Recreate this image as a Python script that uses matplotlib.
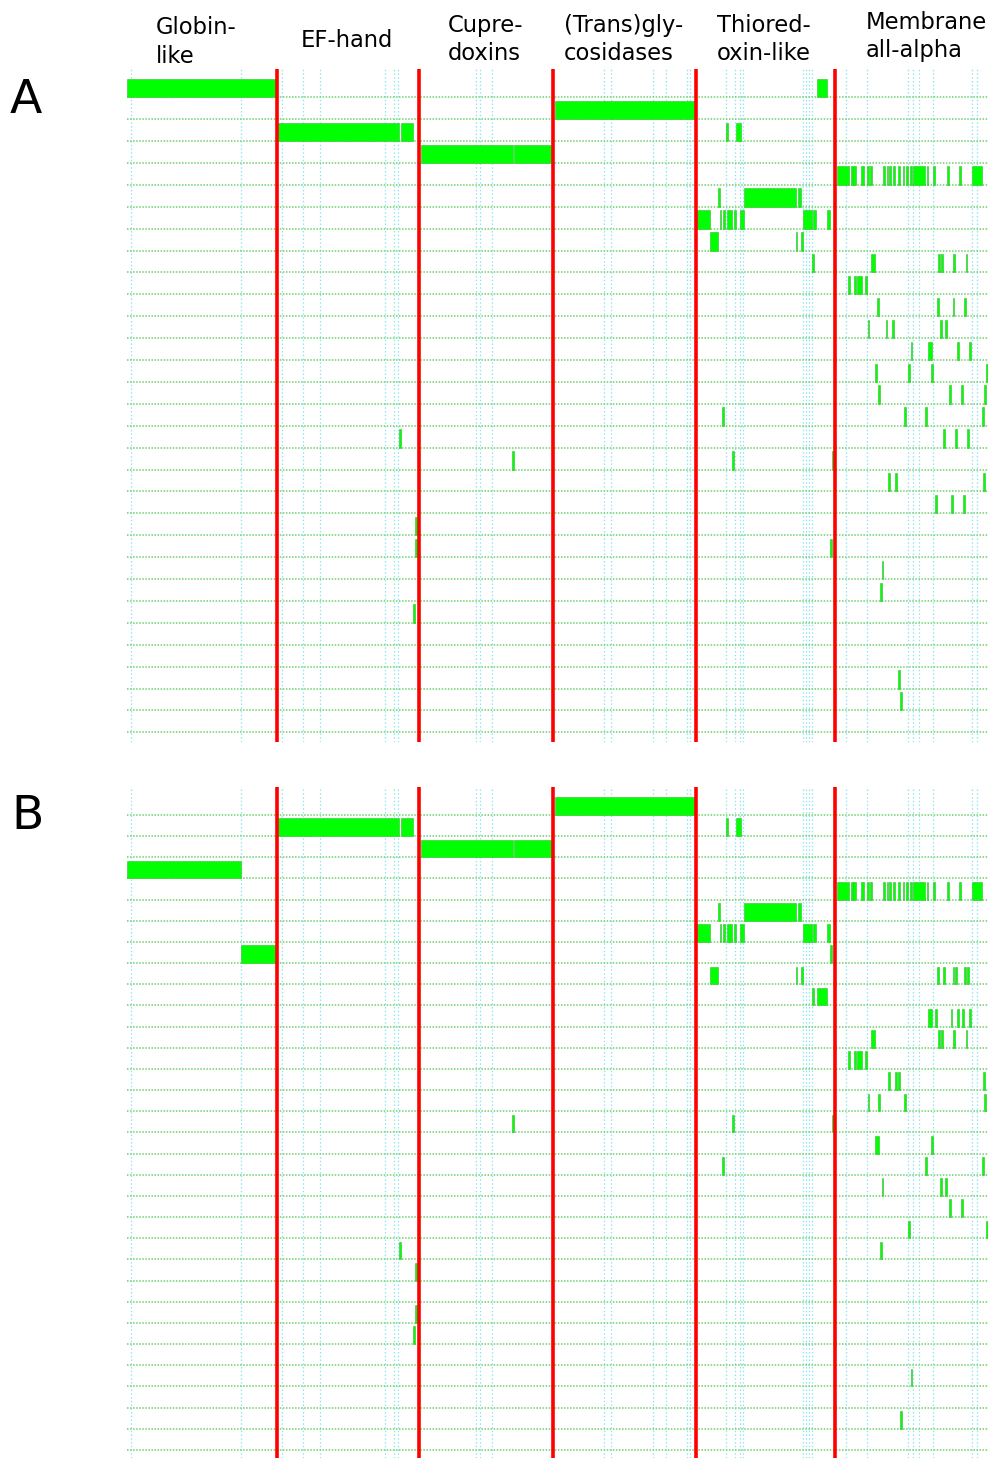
import matplotlib
matplotlib.use("Agg")
import matplotlib.pyplot as plt
import matplotlib.transforms as mtransforms

# superfamily blocks along the concatenated alignment (column units)
groups = ["Globin-\nlike", "EF-hand", "Cupre-\ndoxins", "(Trans)gly-\ncosidases",
          "Thiored-\noxin-like", "Membrane\nall-alpha"]
group_edges = [0, 150, 292, 426, 569, 708, 861]

# faint reference columns
ref_cols = [4, 113.7, 155.3, 175.7, 193.3, 258, 267, 271.3, 349, 353, 364.7,
            477, 483.7, 526.3, 539, 559.7, 563, 598.7, 608, 613, 616.3,
            676, 679, 682, 685, 718.7, 739.7, 781.3, 786.3, 792.3, 806.3,
            844.7, 849.7]

membrane_block = [(710.3, 722.3), (724, 725.7), (726.3, 729), (734, 737), (739.7, 741.7),
                  (743, 744.7), (756.3, 758), (759.7, 761), (762.3, 764.3), (766.3, 768.3),
                  (771.3, 773), (775.7, 777), (779, 781), (783, 784.7), (785.7, 798),
                  (799.7, 801.3), (806.3, 808), (819.7, 821.7), (832, 834), (844.7, 854.7)]
thio_row6 = [(591.3, 593), (617.3, 668.7), (670.7, 674)]
thio_row7 = [(570.3, 583), (593, 594.3), (596.3, 598.3), (599.7, 605.3), (607, 608.7),
             (613, 617), (675.7, 684.7), (685.7, 689.3), (699.7, 703.3)]
ef_block = [(151, 272), (274, 286)]
cupre_block = [(294, 386), (387, 424)]
trans_block = [(428, 568)]

# panel A: one list of (start, end) segments per row, top to bottom
rows_a = [
    [(0, 150), (690, 700)],
    trans_block,
    ef_block + [(599, 601), (609, 614)],
    cupre_block,
    membrane_block,
    thio_row6,
    thio_row7,
    [(583, 591.3), (668.7, 670.3), (673.7, 676.3)],
    [(684.7, 686.7), (744, 748), (811.3, 813), (814.5, 816.3), (826.3, 828.3), (838.7, 840.3)],
    [(721.3, 723.3), (727.3, 729), (730, 734.7), (738, 739.7)],
    [(749.7, 752), (809.7, 811.7), (825.7, 827.3), (837, 838.7)],
    [(740.7, 742.3), (758.7, 760.3), (764.7, 766.7), (813, 815), (818, 819.7)],
    [(783.7, 785.3), (801.3, 805.3), (829.7, 831.7), (842.3, 844)],
    [(748, 750), (780.7, 782.7), (804, 806), (859, 861)],
    [(751, 753), (821.7, 823.7), (834, 836), (857, 859)],
    [(594.7, 596.7), (777, 779), (797.7, 799.7), (854.7, 856.7)],
    [(272.3, 274), (816.3, 818.3), (828.3, 830.3), (840.3, 842.3)],
    [(385.5, 387), (605.3, 607), (705, 706.3)],
    [(761, 763.3), (768, 770.3), (856.3, 858.3)],
    [(808, 810), (824, 825.7), (836, 838)],
    [(288.3, 289.7)],
    [(288, 289.7), (703.3, 705)],
    [(754.7, 756.3)],
    [(752.7, 754.7)],
    [(286, 287.7)],
    [],
    [],
    [(771.3, 773)],
    [(773.3, 775)],
    [],
]

# panel B
rows_b = [
    trans_block,
    ef_block + [(599, 601), (609, 614)],
    cupre_block,
    [(0, 114)],
    membrane_block,
    thio_row6,
    thio_row7,
    [(114, 149), (703.3, 705)],
    [(583, 591.3), (668.7, 670.3), (673.7, 676.3), (809.7, 811.7), (816.3, 818),
     (825.7, 827.3), (828.3, 830), (837, 838.7), (840.3, 842)],
    [(684.7, 686.7), (689.7, 699.7)],
    [(801.3, 805.3), (808, 809.7), (823.7, 825.3), (830, 832), (835.3, 837.3), (842.3, 844)],
    [(744, 748), (811.3, 813), (814.5, 816.3), (826.3, 828.3), (838.7, 840.3)],
    [(721.3, 723.3), (727.3, 729), (730, 734.7), (738, 739.7)],
    [(761, 763.3), (768, 770), (771, 773), (856.3, 858.3)],
    [(740.7, 742.3), (751, 753), (777, 779), (857, 859)],
    [(385.5, 387), (605.3, 607), (705, 706.3)],
    [(748, 752), (804, 806)],
    [(594.7, 596.7), (797.7, 799.7), (854.7, 856.7)],
    [(754.7, 756.3), (813, 815), (818, 819.7)],
    [(821.7, 823.7), (834, 836)],
    [(780.7, 782.7), (859, 861)],
    [(272.3, 274), (752.7, 754.7)],
    [(288.3, 289.7)],
    [],
    [(288, 289.7)],
    [(286, 287.7)],
    [],
    [(783.7, 785.3)],
    [],
    [(773.3, 775)],
    [],
]


def draw_panel(ax, rows, top_pad, bottom_pad):
    n = len(rows)
    for c in ref_cols:
        ax.axvline(c, color="#8fe6ee", lw=0.9, ls=(0, (1.2, 1.8)), zorder=1)
    for i in range(1, n + 1):
        ax.axhline(i, color="#6fd06f", lw=1.1, ls=(0, (1, 1)), zorder=2)
    for i, segs in enumerate(rows):
        if segs:
            ax.broken_barh([(s, e - s) for s, e in segs], (i + 0.16, 0.84),
                           facecolor="#00ff00", edgecolor="#2fbf2f", lw=0.4, zorder=3)
    for x in group_edges[1:-1]:
        ax.axvline(x, color="#ff0000", lw=2.6, zorder=4)
    ax.set_xlim(group_edges[0], group_edges[-1])
    ax.set_ylim(n + bottom_pad, -top_pad)
    ax.axis("off")


fig = plt.figure(figsize=(9.88, 14.58), dpi=100)
ax_a = fig.add_axes([0.1285, 0.4911, 0.8715, 0.4616])
ax_b = fig.add_axes([0.1285, 0.0, 0.8715, 0.4602])

draw_panel(ax_a, rows_a, 0.29, 0.44)
draw_panel(ax_b, rows_b, 0.32, 0.38)

# column headers
label_x = [29, 174, 321, 437, 590, 739]
label_top = [1.078, 1.060, 1.082, 1.082, 1.082, 1.086]
tr = mtransforms.blended_transform_factory(ax_a.transData, ax_a.transAxes)
for name, x, y in zip(groups, label_x, label_top):
    ax_a.text(x, y, name, transform=tr, ha="left", va="top", fontsize=16.3,
              family="DejaVu Sans", linespacing=1.3, clip_on=False)

fig.text(0.010, 0.931, "A", fontsize=34, family="DejaVu Sans", va="center")
fig.text(0.012, 0.440, "B", fontsize=34, family="DejaVu Sans", va="center")

fig.savefig("out.png", dpi=100, facecolor="white")
